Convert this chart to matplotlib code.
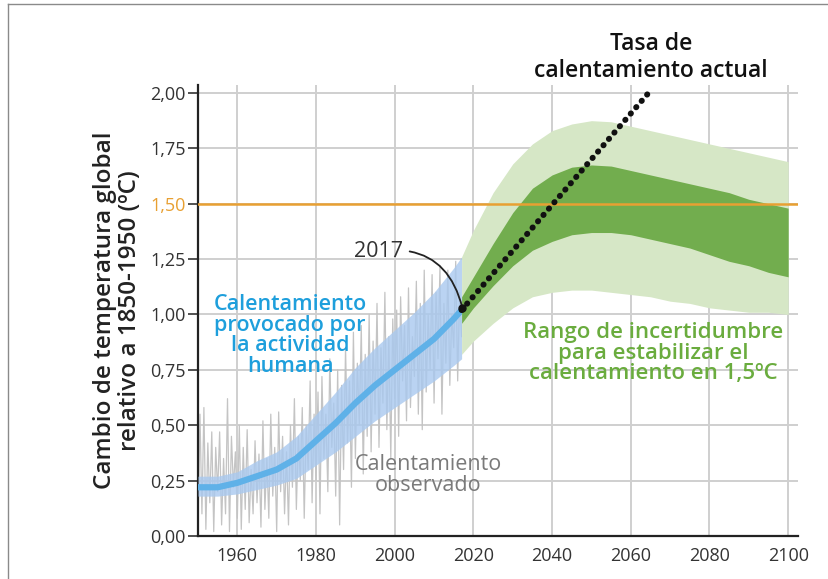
import numpy as np
import matplotlib
matplotlib.use('Agg')
from matplotlib import pyplot as plt
from matplotlib.lines import Line2D

plt.rcParams['font.family'] = ['Open Sans', 'DejaVu Sans']

# temperatura observada (dos valores por año, 1950-2017)
obs_years = np.arange(1950, 2017.01, 0.5)
obs_vals = [0.05, 0.55, 0.10, 0.58, 0.03, 0.42, 0.15, 0.47, 0.02, 0.40,
            0.20, 0.47, 0.05, 0.35, 0.10, 0.62, 0.02, 0.45, 0.22, 0.38,
            0.08, 0.50, 0.03, 0.40, 0.12, 0.48, 0.06, 0.30, 0.10, 0.43,
            0.15, 0.37, 0.04, 0.52, 0.12, 0.35, 0.08, 0.55, 0.18, 0.40,
            0.02, 0.56, 0.20, 0.45, 0.10, 0.38, 0.05, 0.50, 0.22, 0.62,
            0.12, 0.45, 0.25, 0.58, 0.08, 0.50, 0.30, 0.70, 0.15, 0.55,
            0.25, 0.65, 0.10, 0.72, 0.35, 0.55, 0.20, 0.80, 0.40, 0.60,
            0.18, 0.75, 0.05, 0.68, 0.30, 0.85, 0.42, 0.70, 0.22, 0.92,
            0.35, 0.78, 0.50, 0.95, 0.28, 0.82, 0.45, 1.00, 0.38, 0.88,
            0.55, 1.05, 0.40, 0.85, 0.60, 1.10, 0.48, 0.90, 0.35, 0.98,
            0.62, 1.02, 0.45, 1.08, 0.70, 0.95, 0.52, 1.12, 0.58, 0.90,
            0.72, 1.15, 0.55, 1.05, 0.48, 1.20, 0.65, 1.00, 0.75, 1.18,
            0.60, 1.10, 0.80, 1.22, 0.55, 1.05, 0.78, 1.20, 0.68, 1.00,
            0.85, 1.24, 0.70, 1.10, 0.90]

# calentamiento provocado por la actividad humana
hum_years = [1950, 1955, 1960, 1965, 1970, 1975, 1980, 1985, 1990, 1995, 2000, 2005, 2010, 2015, 2017]
hum_mid = [0.22, 0.22, 0.24, 0.27, 0.30, 0.35, 0.43, 0.51, 0.60, 0.68, 0.75, 0.82, 0.89, 0.98, 1.02]
hum_low = [0.18, 0.18, 0.19, 0.21, 0.23, 0.26, 0.32, 0.38, 0.45, 0.52, 0.58, 0.64, 0.70, 0.77, 0.80]
hum_high = [0.27, 0.27, 0.29, 0.34, 0.38, 0.45, 0.55, 0.65, 0.76, 0.85, 0.93, 1.01, 1.10, 1.21, 1.26]

# rango de incertidumbre para estabilizar en 1,5 ºC
fut_years = [2017, 2020, 2025, 2030, 2035, 2040, 2045, 2050, 2055, 2060,
             2065, 2070, 2075, 2080, 2085, 2090, 2095, 2100]
light_high = [1.26, 1.38, 1.55, 1.68, 1.77, 1.83, 1.86, 1.875, 1.87, 1.85,
              1.83, 1.81, 1.79, 1.77, 1.75, 1.73, 1.71, 1.69]
light_low = [0.82, 0.88, 0.96, 1.03, 1.08, 1.10, 1.11, 1.11, 1.10, 1.09,
             1.08, 1.06, 1.05, 1.03, 1.02, 1.01, 1.01, 1.00]
dark_high = [1.08, 1.17, 1.32, 1.46, 1.57, 1.63, 1.665, 1.675, 1.67, 1.65,
             1.63, 1.61, 1.59, 1.57, 1.55, 1.52, 1.50, 1.48]
dark_low = [0.96, 1.03, 1.13, 1.22, 1.29, 1.33, 1.36, 1.37, 1.37, 1.36,
            1.34, 1.32, 1.30, 1.27, 1.24, 1.22, 1.19, 1.17]

# tasa de calentamiento actual
rate_years = [2017, 2064.5]
rate_vals = [1.02, 2.00]

xticks = [1960, 1980, 2000, 2020, 2040, 2060, 2080, 2100]
yticks = [0.0, 0.25, 0.5, 0.75, 1.0, 1.25, 1.5, 1.75, 2.0]

fig = plt.figure(figsize=(8.29, 5.79), dpi=100)
ax = fig.add_axes([198 / 829, 43 / 579, 600 / 829, 451 / 579])
ax.set_xlim(1950, 2102.5)
ax.set_ylim(0, 2.036)

ax.set_xticks(xticks)
ax.set_yticks(yticks)
ax.set_yticklabels([('%.2f' % v).replace('.', ',') for v in yticks])
ax.tick_params(axis='x', length=0, pad=8, labelsize=13, labelcolor='#333333')
ax.tick_params(axis='y', length=7, width=1.2, color='#333333', pad=2,
               labelsize=13, labelcolor='#333333')
ax.get_yticklabels()[6].set_color('#e8a032')
ax.yaxis.get_major_ticks()[6].tick1line.set_color('#e8a032')

ax.grid(True, color='#cfcfcf', linewidth=1.4, zorder=0)
for s in ['top', 'right']:
    ax.spines[s].set_visible(False)
for s in ['left', 'bottom']:
    ax.spines[s].set_linewidth(1.6)
    ax.spines[s].set_color('#222222')

ax.plot(obs_years, obs_vals, color='#c4c4c4', linewidth=0.9, zorder=2)
ax.fill_between(hum_years, hum_low, hum_high, color='#a9c9ef', alpha=0.8,
                linewidth=0, zorder=3)
ax.plot(hum_years, hum_mid, color='#5fb1e8', linewidth=4.5, zorder=4,
        solid_capstyle='butt')

ax.fill_between(fut_years, light_low, light_high, color='#d6e7c6', linewidth=0, zorder=3)
ax.fill_between(fut_years, dark_low, dark_high, color='#72ad4e', linewidth=0, zorder=4)

ax.axhline(1.5, color='#e8a032', linewidth=1.8, zorder=5)

ax.plot(rate_years, rate_vals, color='#111111', linewidth=4.3,
        linestyle=(0, (0.05, 1.35)), dash_capstyle='round', zorder=6,
        clip_on=False)

ax.annotate('2017', xy=(2017.2, 1.03), xytext=(1995.8, 1.285),
            ha='center', va='center', fontsize=15.5, color='#333333',
            arrowprops=dict(arrowstyle='-', color='#222222', linewidth=1.3,
                            shrinkA=3, shrinkB=0,
                            connectionstyle='arc3,rad=-0.45'), zorder=7)
ax.plot([2017.2], [1.03], 'o', color='#111111', markersize=5, zorder=7)

ax.text(2065.2, 2.16, 'Tasa de\ncalentamiento actual', ha='center', va='center',
        fontsize=16.5, color='#111111', fontweight='semibold', linespacing=1.2,
        clip_on=False)
ax.text(1973.4, 0.905, 'Calentamiento\nprovocado por\nla actividad\nhumana',
        ha='center', va='center', fontsize=15.5, color='#1e9fdc',
        fontweight='semibold', linespacing=0.98, zorder=8)
ax.text(2065.7, 0.826, 'Rango de incertidumbre\npara estabilizar el\ncalentamiento en 1,5ºC',
        ha='center', va='center', fontsize=16, color='#6aac3e',
        fontweight='semibold', linespacing=0.95, zorder=8)
ax.text(2008.6, 0.275, 'Calentamiento\nobservado', ha='center', va='center',
        fontsize=15.5, color='#7a7a7a', linespacing=0.95, zorder=8)

ax.set_ylabel('Cambio de temperatura global\nrelativo a 1850-1950 (ºC)',
              fontsize=17.5, color='#222222', fontweight='semibold',
              linespacing=1.05, labelpad=6)

# marco de la figura
fig.add_artist(Line2D([8 / 829, 1], [1 - 4 / 579, 1 - 4 / 579], color='#8a8a8a', linewidth=1.0))
fig.add_artist(Line2D([8 / 829, 8 / 829], [0, 1 - 4 / 579], color='#8a8a8a', linewidth=1.0))

plt.savefig('out.png', dpi=100)
